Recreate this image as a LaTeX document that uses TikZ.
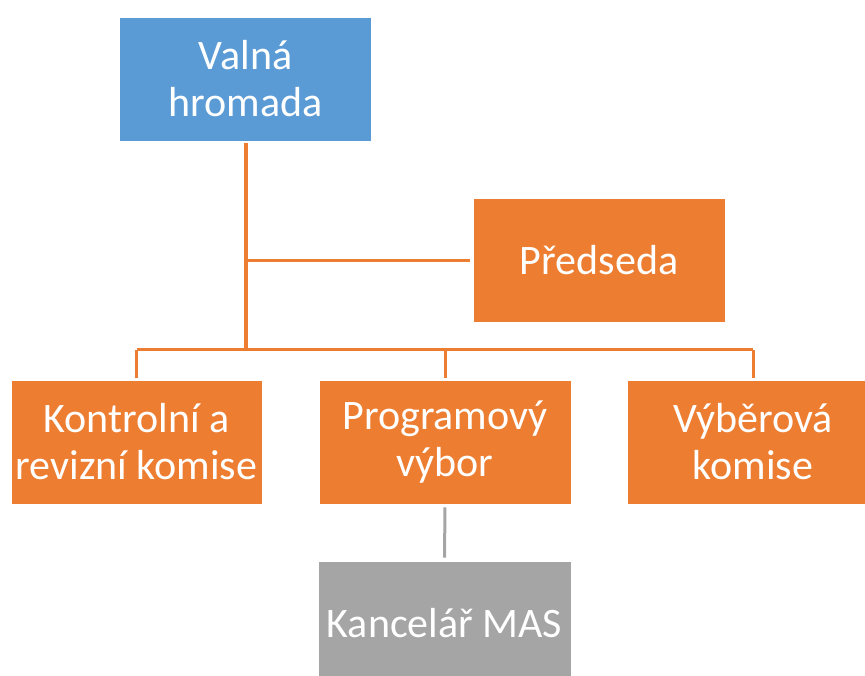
\documentclass[tikz,border=0pt]{standalone}
\usepackage{fontspec}
\setmainfont{Carlito}
\definecolor{mblue}{HTML}{5B9BD5}
\definecolor{morange}{HTML}{ED7D31}
\definecolor{mgray}{HTML}{A5A5A5}
\begin{document}
\begin{tikzpicture}[x=1pt,y=-1pt,
  box/.style={rectangle, inner sep=0pt, minimum width=252pt, minimum height=124pt,
    text=white, align=center, font=\fontsize{42}{47}\selectfont, draw=white, line width=0.6pt},
  conn/.style={draw=morange, line width=3pt},
  trunk/.style={draw=morange, line width=4pt},
  gconn/.style={draw=mgray, line width=3pt}]
\useasboundingbox (0,0) rectangle (865,676);
\clip (0,0) rectangle (865,676);
\node[box, fill=mblue] (vh) at (245.5,79) {Valná\\hromada};
\node[box, fill=morange] (pr) at (599,260.5) {Předseda};
\node[box, fill=morange, minimum width=251pt] (kr) at (136.5,442) {Kontrolní a\\revizní komise};
\node[box, fill=morange] (pv) at (445,442) {Programový\\výbor};
\node[box, fill=morange] (vv) at (753,442) {Výběrová\\komise};
\node[box, fill=mgray, minimum width=253pt] (km) at (444.5,623) {Kancelář MAS};
\coordinate (bus) at (0,350);
\draw[trunk, shorten <=2pt] (vh.south) -- (vh.south |- bus);
\draw[conn, shorten >=3pt] (vh.south |- pr.west) -- (pr.west);
\draw[conn] (kr.north |- bus) -- (vv.north |- bus);
\draw[conn, shorten >=2pt] (kr.north |- bus) -- (kr.north);
\draw[conn, shorten >=2pt] (pv.north |- bus) -- (pv.north);
\draw[conn, shorten >=2pt] (vv.north |- bus) -- (vv.north);
\draw[gconn, shorten <=3pt, shorten >=3pt] (pv.south) -- (km.north);
\end{tikzpicture}
\end{document}
